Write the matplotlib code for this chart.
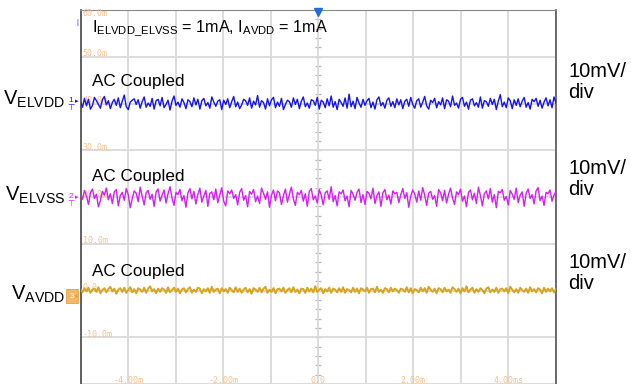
import numpy as np
import matplotlib
matplotlib.use("Agg")
import matplotlib.pyplot as plt

plt.rcParams['font.family'] = ['Liberation Sans', 'DejaVu Sans']
plt.rcParams['mathtext.fontset'] = 'custom'
plt.rcParams['mathtext.rm'] = 'Liberation Sans'
plt.rcParams['mathtext.it'] = 'Liberation Sans'

# scope screen: time in ms, voltage in mV
t_start, t_end = -5.0, 5.0
v_min, v_max = -20, 60
channel_levels = [40, 20, 0]   # ch1 ELVDD, ch2 ELVSS, ch3 AVDD
channel_names = ['ELVDD', 'ELVSS', 'AVDD']
channel_colors = ['#1414e8', '#d21ff2', '#d8a41e']
volt_labels = ['60.0m', '50.0m', '40.0m', '30.0m', '20.0m', '10.0m', '0.0', '-10.0m']
volt_label_values = [60, 50, 40, 30, 20, 10, 0, -10]
time_labels = ['-4.00m', '-2.00m', '0.0', '2.00m', '4.00ms']
time_label_values = [-4, -2, 0, 2, 4]

# ripple (mV, AC coupled)
ripple_elvdd = [
    0.3, -0.8, 1.1, -0.5, 0.9, -1.2, -0.4, 1.3, 0.6, -0.2, -1.0, 0.8, 1.5, -0.3, 0.6, -1.1,
    0.2, 0.9, -0.4, 1.2, -0.9, 0.5, 1.8, -0.7, -1.3, 0.3, 0.7, 1.0, -0.2, 0.8, -1.0, 0.4,
    1.4, -0.8, 0.1, -0.6, 1.1, -1.2, 0.6, 0.9, -0.5, 1.3, -0.9, -0.2, 0.7, -1.4, 0.5, 1.6,
    -0.4, 0.3, -0.8, 1.0, 0.2, -1.1, 0.8, 0.4, -0.7, 1.2, -0.3, 0.9, -1.2, 0.6, 1.1, -0.5,
    0.2, -1.0, 1.4, 0.3, -0.6, 0.5, 0.8, -1.3, 0.7, -0.2, 1.0, -0.9, 0.4, 1.5, -0.7, 0.3,
    -1.1, -0.3, 0.9, 0.6, -0.4, 1.2, -1.0, 0.5, -0.3, 1.7, -0.8, 0.6, 0.2, -1.2, 1.0, -0.5,
    0.8, 1.3, -0.9, 0.3, -0.6, 1.1, -1.3, -0.2, 0.7, 0.4, -0.8, 1.2, -0.2, 0.9, -1.1, 0.5,
    1.4, -0.7, 0.1, -1.0, 0.8, 0.6, -0.4, 1.3, -1.2, 0.7, 0.3, -0.9, 1.0, -0.5, 1.6, -0.8,
    0.4, -1.3, 0.9, 0.2, -0.6, 1.2, -1.0, 2.0, -0.7, 0.5, -1.1, 1.3, 0.1, -0.8, 0.9, -0.4,
    0.6, 1.1, -0.9, 0.3, -1.2, 0.8, 1.4, -0.5, 0.2, -1.0, 0.7, 1.2, -0.6, 0.4, -0.9, 1.0,
    -0.3, 0.8, -1.1, 0.5, 0.9, -0.6, 1.3, -0.2, -1.0, 0.6, 1.0, -0.8, 0.3, 1.5, -0.5, -1.2,
    0.7, 0.2, 1.1, -0.9, 0.4, -0.3, 1.2, -1.1, 0.8, 0.5, -0.7, 1.6, -0.4, 0.1, -1.0, 0.9,
    1.3, -0.6, 0.3, -1.2, 0.7, 1.0, -0.5, 0.2, -0.8, 1.4, -1.0, 0.6, 0.4, -0.6, 1.1, -0.2,
    0.9, -1.3, 0.5, 1.9, -0.7, 0.3, -0.9, 1.2, 0.6, -1.1, 0.8, -0.4, 1.0, -0.7, 0.5, 1.3,
    -0.8, 0.2, -1.2, 0.9, 0.4, 1.1, -0.6, 0.7, -1.0, 0.3, 1.2, -0.5, 0.8, -0.9, 1.4, 0.1,
]
ripple_elvss = [
    0.8, -0.5, 1.4, 0.2, -1.6, 0.9, 1.7, -0.3, 0.6, -2.1, -0.8, 1.2, 0.4, 1.9, -0.6, 0.7,
    -1.4, 1.1, 1.6, -1.9, 0.3, 1.0, -0.7, 1.8, 0.5, -2.3, -0.4, 1.3, 0.8, -1.0, 2.1, 0.2,
    -1.7, 0.9, 1.4, -0.5, 0.6, -2.0, 1.1, 1.7, -0.9, 0.4, 1.5, -1.3, 0.7, 2.2, -0.2, -1.8,
    1.0, 0.5, 1.6, -0.8, 0.3, -2.2, 0.9, 1.8, -0.4, 1.2, -1.5, 0.6, 1.9, -1.1, 0.2, 1.4,
    -2.0, 0.8, 1.1, -0.6, 1.7, -1.2, 0.4, 2.0, -0.9, -1.9, 1.3, 0.7, 1.5, -0.3, 0.5, -1.7,
    1.0, 1.8, -0.7, 0.3, -2.1, 1.2, 0.6, 1.6, -1.0, 0.2, -1.4, 1.9, 0.8, -0.5, 1.1, -2.2,
    0.4, 1.5, -0.8, 1.3, 0.9, -1.6, 0.3, 1.7, -1.1, 0.6, 2.1, -0.4, -1.8, 1.0, 0.5, 1.4,
    -0.9, 0.7, -2.0, 1.2, 1.8, -0.6, 0.2, -1.3, 1.6, 0.4, -1.7, 0.9, 1.3, -0.5, 2.2, -1.0,
    0.3, -1.9, 1.1, 0.7, 1.5, -0.8, 0.2, -2.1, 1.4, 0.6, -0.7, 1.0, 1.7, -1.2, 0.5, -1.6,
    1.2, 0.8, -0.4, 1.9, -1.4, 0.3, 1.1, -2.0, 0.9, 1.6, -0.6, 0.4, -1.5, 1.3, 0.7, 1.0,
    -1.2, 0.5, 1.8, -0.3, 0.9, -2.2, 0.2, 1.5, 0.6, -1.1, 1.3, -0.7, 2.0, 0.4, -1.8, 0.8,
    1.2, -0.5, 0.3, -2.0, 1.6, 0.9, -0.8, 1.4, -1.3, 0.6, 1.9, -0.2, -1.6, 1.1, 0.5, 1.7,
    -0.9, 0.2, -2.1, 1.0, 1.5, -0.6, 0.8, -1.4, 2.1, 0.3, -1.9, 0.7, 1.3, -0.4, 1.8, -1.1,
    0.5, -2.3, 1.2, 0.9, 1.6, -0.7, 0.1, -1.7, 1.4, 0.6, -0.5, 1.9, -1.2, 0.4, 1.1, -2.0,
    0.8, 1.7, -0.3, 0.5, -1.5, 1.3, 2.0, -0.8, 0.2, -1.8, 1.0, 0.7, 1.5, -0.9, 0.4, 1.2,
]
ripple_avdd = [
    0.3, -0.4, 0.5, -0.2, 0.6, -0.5, 0.2, 0.4, -0.3, 0.7, -0.6, 0.1, 0.5, -0.4, 0.3, 0.8,
    -0.2, 0.4, -0.7, 0.2, 0.5, -0.3, 0.6, -0.5, 0.1, 0.7, -0.4, 0.3, -0.6, 0.5, 0.2, -0.3,
    0.6, -0.5, 0.4, 0.9, -0.2, 0.3, -0.6, 0.4, -0.3, 0.5, 0.2, -0.5, 0.7, -0.4, 0.1, 0.6,
    -0.3, 0.4, -0.6, 0.2, 0.5, -0.4, 0.3, 0.7, -0.5, 0.2, -0.3, 0.6, 0.4, -0.6, 0.3, -0.2,
    0.5, -0.5, 0.8, -0.3, 0.2, 0.4, -0.6, 0.5, -0.2, 0.3, -0.5, 0.6, 0.1, -0.4, 0.7, -0.3,
    0.4, -0.5, 0.2, 0.6, -0.4, 0.3, -0.7, 0.5, 0.2, -0.3, 0.6, -0.4, 0.4, 0.8, -0.5, 0.2,
    -0.3, 0.5, -0.6, 0.3, 0.4, -0.2, 0.6, -0.5, 0.1, 0.5, -0.4, 0.7, -0.3, 0.2, -0.6, 0.4,
    0.3, -0.5, 0.6, -0.2, 0.4, -0.4, 0.9, -0.3, 0.2, 0.5, -0.6, 0.3, -0.2, 0.6, -0.5, 0.4,
    0.2, -0.4, 0.5, -0.3, 0.7, -0.5, 0.3, 0.1, -0.4, 0.6, -0.3, 0.4, -0.6, 0.5, 0.2, -0.2,
    0.6, -0.5, 0.3, 0.4, -0.4, 0.8, -0.3, 0.2, -0.5, 0.5, 0.3, -0.4, 0.6, -0.2, 0.4, 0.1,
    -0.5, 0.4, 0.2, -0.3, 0.7, -0.4, 0.5, -0.6, 0.3, 0.1, -0.4, 0.6, -0.2, 0.5, -0.5, 0.8,
    0.2, -0.3, 0.4, -0.6, 0.5, 0.3, -0.4, 0.6, -0.2, 0.2, -0.5, 0.7, 0.3, -0.3, 0.4, -0.6,
    0.5, -0.2, 0.9, -0.4, 0.2, 0.6, -0.5, 0.3, -0.3, 0.5, 0.1, -0.6, 0.4, 0.7, -0.4, 0.2,
    -0.3, 0.6, -0.5, 0.3, 0.4, -0.2, 0.5, -0.6, 0.8, 0.2, -0.4, 0.3, -0.5, 0.6, 0.1, -0.3,
    0.4, -0.5, 0.7, -0.2, 0.3, -0.4, 0.5, 0.2, -0.6, 0.6, -0.3, 0.4, -0.2, 0.5, -0.4, 0.3,
]
ripples = [ripple_elvdd, ripple_elvss, ripple_avdd]
line_widths = [1.0, 1.0, 1.4]

W, H = 631, 384
fig = plt.figure(figsize=(W / 100, H / 100), dpi=100)
ax = fig.add_axes([80.5 / W, 0, 475.5 / W, 374 / H])
ax.set_xlim(t_start, t_end)
ax.set_ylim(v_min, v_max)

# graticule
ax.set_xticks(np.arange(-5, 6, 1))
ax.set_yticks(np.arange(-20, 61, 10))
ax.grid(True, color='#d9d9d9', lw=1.3)
ax.tick_params(length=0, labelbottom=False, labelleft=False)
ax.spines['bottom'].set_visible(False)
ax.spines['left'].set_color('#444444')
ax.spines['right'].set_color('#555555')
ax.spines['top'].set_color('#888888')
ax.spines['left'].set_linewidth(1.2)
ax.spines['right'].set_linewidth(1.2)

# minor ticks along the centre vertical
ax.plot(np.zeros(40), np.arange(-20, 60, 2), ls='none', marker='_', ms=5,
        mec='#b5b5b5', mew=0.9, zorder=1)

mono = dict(family='DejaVu Sans Mono', fontsize=6, color='#f5c08a')
for lab, v in zip(volt_labels, volt_label_values):
    y = v - 0.8 if v == v_max else v + 0.6
    ax.text(t_start + 0.05, y, lab, ha='left', va='center', **mono)
for lab, tt in zip(time_labels, time_label_values):
    ax.text(tt, v_min + 0.8, lab, ha='center', va='center', **mono)

# traces
for lvl, rip, col, lw in zip(channel_levels, ripples, channel_colors, line_widths):
    y = lvl + np.array(rip)
    x = np.linspace(t_start, t_end, len(rip))
    ax.plot(x, y, color=col, lw=lw, zorder=3)

# trigger marker
ax.plot([0], [v_max - 0.4], marker='v', ms=6, color='#1f6fd8', clip_on=False, zorder=5)


def px(x, y):
    return x / W, 1 - y / H


fig.text(*px(77, 22), '|', color='#1f3fe0', fontsize=5, ha='center', va='center')

fig.text(*px(92, 31),
         r'$\mathrm{I_{ELVDD\_ELVSS}}$ = 1mA, $\mathrm{I_{AVDD}}$ = 1mA',
         fontsize=11.6, ha='left', va='baseline')

label_base = [105, 201, 300]
ac_base = [86, 181, 276]
right_base = [98, 195, 289]
for i in range(3):
    fig.text(*px(65, label_base[i]), r'$\mathrm{V_{%s}}$' % channel_names[i],
             fontsize=14.5, ha='right', va='baseline')
    fig.text(*px(92, ac_base[i]), 'AC Coupled', fontsize=12.3,
             ha='left', va='baseline')
    fig.text(*px(568, right_base[i]), '10mV/\ndiv', fontsize=14.5,
             ha='left', va='baseline', linespacing=1.15)

# channel markers on the left edge
for i in range(3):
    yy = label_base[i] - 4
    if i == 2:
        fig.text(*px(72, yy), '3', fontsize=6, color='white', ha='center', va='center',
                 bbox=dict(boxstyle='square,pad=0.4', fc='#f0b868', ec='#e8a040', lw=0.6))
    else:
        fig.text(*px(71, yy - 1), str(i + 1), fontsize=6, color=channel_colors[i],
                 ha='center', va='center')
        fig.text(*px(71, yy + 6), '⊤', fontsize=6, color=channel_colors[i],
                 family='DejaVu Sans', ha='center', va='center')
    fig.text(*px(77, yy), '▸', fontsize=5, color=channel_colors[i],
             family='DejaVu Sans', ha='center', va='center')

fig.savefig('out.png', dpi=100, facecolor='white')
